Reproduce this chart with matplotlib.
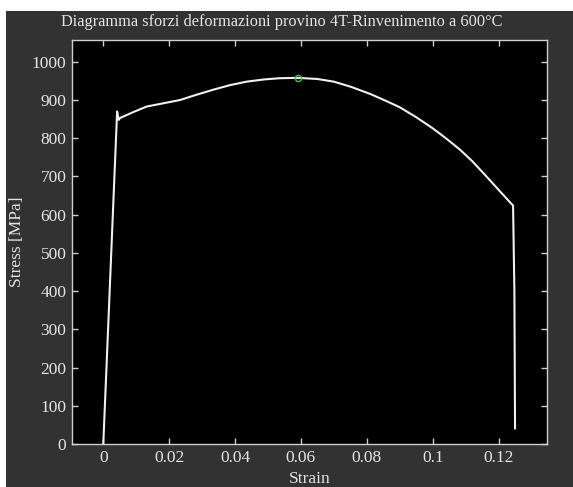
import matplotlib
matplotlib.use("Agg")
import matplotlib.pyplot as plt
from matplotlib.patches import Rectangle

# Tensile test curve, specimen 4T tempered at 600 °C
strain = [0.0, 0.0042, 0.0044, 0.0047, 0.0051, 0.0090, 0.0132,
          0.0180, 0.0233, 0.0280, 0.0334, 0.0385, 0.0435, 0.0490, 0.0536,
          0.0590, 0.0650, 0.0700, 0.0750, 0.0810, 0.0860, 0.0900, 0.0950,
          0.1000, 0.1040, 0.1083, 0.1120, 0.1160, 0.1200, 0.1234, 0.1244,
          0.1248, 0.1250]
stress = [0.0, 870.0, 860.0, 848.0, 853.0, 868.0, 883.0,
          891.0, 900.0, 913.0, 927.0, 939.0, 948.0, 954.0, 957.0,
          958.0, 955.0, 948.0, 935.0, 916.0, 897.0, 881.0, 855.0,
          826.0, 800.0, 770.0, 740.0, 703.0, 665.0, 633.0, 624.0,
          400.0, 41.0]

# Maximum stress point
uts_strain = [0.0590]
uts_stress = [958.0]

xticks = [0, 0.02, 0.04, 0.06, 0.08, 0.1, 0.12]
xtick_labels = ["0", "0.02", "0.04", "0.06", "0.08", "0.1", "0.12"]
yticks = [0, 100, 200, 300, 400, 500, 600, 700, 800, 900, 1000]

W, H = 573, 487
fig = plt.figure(figsize=(W / 100, H / 100), dpi=100, facecolor="white")
fig.patches.append(Rectangle((6 / W, 0), 1, (H - 11) / H, transform=fig.transFigure,
                             facecolor="#323232", edgecolor="none", zorder=-10))

plt.rcParams["font.family"] = ["Liberation Serif", "DejaVu Serif"]
txt = "#e4e4e4"
spine = "#cfcfcf"

ax = fig.add_axes([72 / W, (H - 444) / H, (547 - 72) / W, (444 - 40) / H])
ax.set_facecolor("black")
ax.plot(strain, stress, color="#f0f0f0", lw=1.5, zorder=3)
ax.plot(uts_strain, uts_stress, "o", ms=4.5, mfc="none", mec="#3cc43c", mew=1.0, zorder=4)

ax.set_xlim(-0.0095, 0.1347)
ax.set_ylim(0, 1057)
ax.set_xticks(xticks)
ax.set_xticklabels(xtick_labels)
ax.set_yticks(yticks)

for s in ax.spines.values():
    s.set_color(spine)
    s.set_linewidth(1.0)
ax.tick_params(direction="in", length=4, width=1.0, colors=spine, labelcolor=txt,
               labelsize=12.5, top=True, right=True, pad=4)

ax.set_xlabel("Strain", color=txt, fontsize=12.5, labelpad=4)
ax.set_ylabel("Stress [MPa]", color=txt, fontsize=12.5, labelpad=5)
fig.text(282 / W, (H - 22) / H, "Diagramma sforzi deformazioni provino 4T-Rinvenimento a 600°C",
         color=txt, fontsize=11.8, ha="center", va="center")

fig.savefig("out.png", dpi=100, facecolor=fig.get_facecolor())
